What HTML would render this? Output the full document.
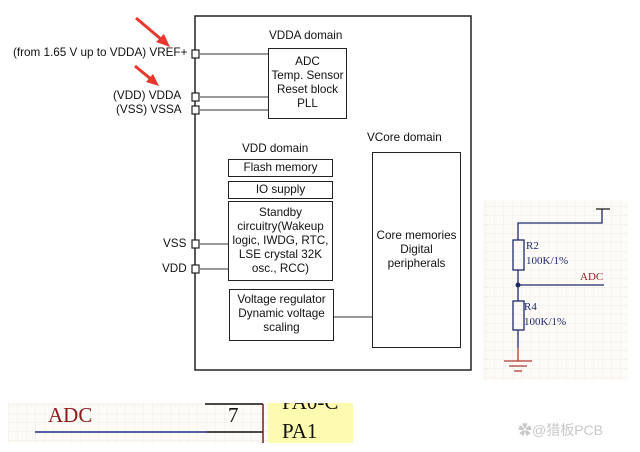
<!DOCTYPE html><html><head><style>
body{margin:0;width:640px;height:452px;background:#fff;overflow:hidden;position:relative;font-family:"Liberation Sans",sans-serif}
.t{position:absolute;font-size:11.7px;color:#111;white-space:nowrap}
.b{position:absolute;border:1.3px solid #222;box-sizing:border-box;text-align:center;font-size:11.7px;line-height:14px;color:#111;white-space:nowrap}
</style></head><body>
<svg width="640" height="452" style="position:absolute;left:0;top:0">
<defs><pattern id="g" width="9" height="9" patternUnits="userSpaceOnUse"><path d="M9 0V9H0" fill="none" stroke="#f1ebe4" stroke-width="1"/></pattern></defs>
<rect x="483" y="200" width="145" height="180" fill="#fdfbf8"/><rect x="483" y="200" width="145" height="180" fill="url(#g)"/>
<rect x="8" y="403" width="345" height="40" fill="#fdfbf8"/><rect x="8" y="403" width="260" height="40" fill="url(#g)"/>
<rect x="195" y="16" width="276" height="354" fill="none" stroke="#222" stroke-width="1.5"/>
<g stroke="#333" stroke-width="1" fill="none">
<line x1="200" y1="54" x2="268" y2="54"/><line x1="200" y1="97" x2="268" y2="97"/><line x1="200" y1="110" x2="268" y2="110"/>
<line x1="200" y1="244" x2="228" y2="244"/><line x1="200" y1="269" x2="228" y2="269"/><line x1="334" y1="317" x2="372" y2="317"/>
</g>
<g fill="#fff" stroke="#222" stroke-width="1.2">
<rect x="192" y="50" width="7" height="8"/><rect x="192" y="93" width="7" height="8"/><rect x="192" y="106" width="7" height="8"/>
<rect x="192" y="240" width="7" height="8"/><rect x="192" y="265" width="7" height="8"/>
</g>
<g stroke="#e8372c" stroke-width="3" fill="#e8372c">
<line x1="136" y1="18" x2="162" y2="40"/><polygon points="170,47 156,42 164,34" stroke-width="0"/>
<line x1="135" y1="66" x2="152" y2="80"/><polygon points="159,86 146,82 153,74" stroke-width="0"/>
</g>
<g stroke="#1f2a6b" stroke-width="1.3" fill="none">
<polyline points="518,240 518,223 602,223 602,209"/>
<line x1="596" y1="209" x2="610" y2="209" stroke="#222"/>
<rect x="513" y="240" width="11" height="30"/><line x1="518" y1="270" x2="518" y2="301"/>
<line x1="518" y1="285" x2="604" y2="285"/>
<rect x="513" y="301" width="11" height="29"/><line x1="518" y1="330" x2="518" y2="348"/>
</g>
<circle cx="518" cy="285" r="2.5" fill="#1f2a6b"/>
<g stroke="#b03a2e" stroke-width="1.3"><line x1="518" y1="348" x2="518" y2="361"/><line x1="504" y1="361" x2="532" y2="361"/><line x1="509" y1="366" x2="527" y2="366"/><line x1="514" y1="371" x2="522" y2="371"/></g>
<line x1="35" y1="432" x2="207" y2="432" stroke="#1f2a8b" stroke-width="1.5"/>
<line x1="207" y1="432" x2="263" y2="432" stroke="#111" stroke-width="1.5"/>
<line x1="205" y1="404" x2="263" y2="404" stroke="#111" stroke-width="1.5"/>
<rect x="268" y="403" width="85" height="40" fill="#fdfbb0"/>
<line x1="263" y1="404" x2="263" y2="443" stroke="#7a1a1a" stroke-width="1.5"/>
</svg>
<div class="t" style="left:13px;top:46px">(from 1.65 V up to VDDA) VREF+</div>
<div class="t" style="left:113px;top:89px">(VDD) VDDA</div>
<div class="t" style="left:116px;top:103px">(VSS) VSSA</div>
<div class="t" style="left:163px;top:237px">VSS</div>
<div class="t" style="left:162px;top:262px">VDD</div>
<div class="t" style="left:269px;top:29px">VDDA domain</div>
<div class="t" style="left:242px;top:142px">VDD domain</div>
<div class="t" style="left:367px;top:131px">VCore domain</div>
<div class="b" style="left:268px;top:48px;width:79px;height:71px;padding-top:6px">ADC<br>Temp. Sensor<br>Reset block<br>PLL</div>
<div class="b" style="left:228px;top:159px;width:105px;height:18px;line-height:15px">Flash memory</div>
<div class="b" style="left:228px;top:181px;width:105px;height:18px;line-height:15px">IO supply</div>
<div class="b" style="left:228px;top:201px;width:105px;height:80px;padding-top:4px">Standby<br>circuitry(Wakeup<br>logic, IWDG, RTC,<br>LSE crystal 32K<br>osc., RCC)</div>
<div class="b" style="left:229px;top:289px;width:105px;height:52px;padding-top:3px">Voltage regulator<br>Dynamic voltage<br>scaling</div>
<div class="b" style="left:372px;top:152px;width:89px;height:196px;padding-top:76px">Core memories<br>Digital<br>peripherals</div>
<div class="t" style="left:526px;top:240px;font-family:'Liberation Serif',serif;color:#1f2a6b;font-size:11px">R2</div>
<div class="t" style="left:526px;top:255px;font-family:'Liberation Serif',serif;color:#1f2a6b;font-size:11px">100K/1%</div>
<div class="t" style="left:580px;top:271px;font-family:'Liberation Serif',serif;color:#8b2020;font-size:11px">ADC</div>
<div class="t" style="left:524px;top:301px;font-family:'Liberation Serif',serif;color:#1f2a6b;font-size:11px">R4</div>
<div class="t" style="left:524px;top:316px;font-family:'Liberation Serif',serif;color:#1f2a6b;font-size:11px">100K/1%</div>
<div class="t" style="left:518px;top:420px;font-family:'Liberation Sans','Noto Sans CJK SC',sans-serif;color:#c8c8c8;font-size:14px">✿@猎板PCB</div>
<div class="t" style="left:48px;top:403px;font-family:'Liberation Serif',serif;color:#8b1a1a;font-size:21px">ADC</div>
<div class="t" style="left:228px;top:403px;font-family:'Liberation Serif',serif;color:#111;font-size:21px">7</div>
<div class="t" style="left:282px;top:419px;font-family:'Liberation Serif',serif;color:#111;font-size:21px">PA1</div>
<div style="position:absolute;left:268px;top:403px;width:85px;height:11px;overflow:hidden"><div class="t" style="left:14px;top:-13px;font-family:'Liberation Serif',serif;font-size:21px">PA0-C</div></div>
</body></html>
